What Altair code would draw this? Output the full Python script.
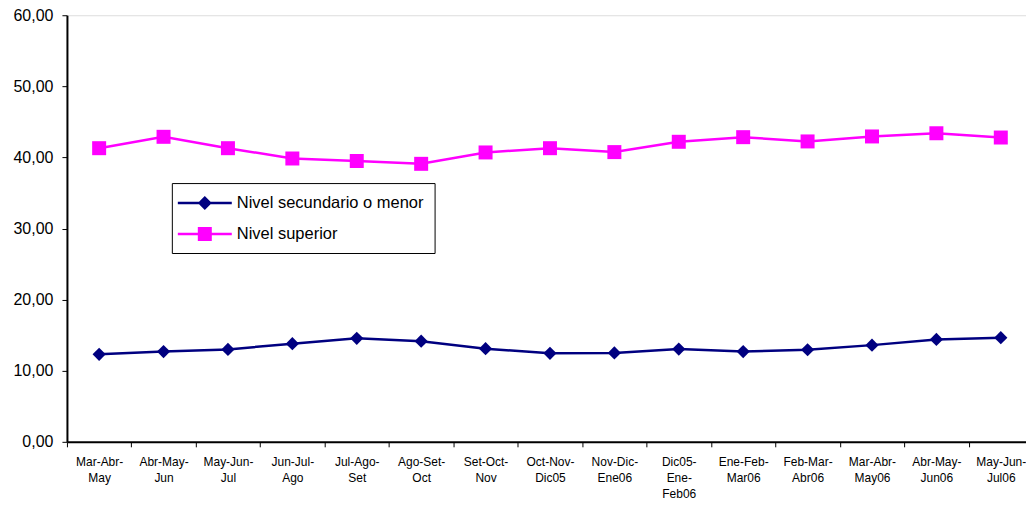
import altair as alt
import pandas as pd

categorias = ["Mar-Abr-\nMay", "Abr-May-\nJun", "May-Jun-\nJul", "Jun-Jul-\nAgo", "Jul-Ago-\nSet",
              "Ago-Set-\nOct", "Set-Oct-\nNov", "Oct-Nov-\nDic05", "Nov-Dic-\nEne06", "Dic05-\nEne-\nFeb06",
              "Ene-Feb-\nMar06", "Feb-Mar-\nAbr06", "Mar-Abr-\nMay06", "Abr-May-\nJun06", "May-Jun-\nJul06"]
secundario = [12.3, 12.7, 13.0, 13.8, 14.55, 14.15, 13.1, 12.45, 12.5, 13.05, 12.7, 12.95, 13.6, 14.4, 14.65]
superior = [41.3, 42.9, 41.3, 39.85, 39.5, 39.1, 40.7, 41.3, 40.75, 42.2, 42.85, 42.25, 42.95, 43.4, 42.8]
series = ["Nivel secundario o menor", "Nivel superior"]
colores = ["#000080", "#FF00FF"]
y_ticks = [0, 10, 20, 30, 40, 50, 60]

rows = []
for c, a, b in zip(categorias, secundario, superior):
    rows.append({"periodo": c, "serie": series[0], "valor": a})
    rows.append({"periodo": c, "serie": series[1], "valor": b})
df = pd.DataFrame(rows)

# legend symbols: line segment + marker (custom SVG paths)
path_diamond = ("M-1.4,-0.13 L4.0,-0.13 L4.0,0.13 L-1.4,0.13 Z "
                "M1.3,-0.7 L2.0,0 L1.3,0.7 L0.6,0 Z")
path_square = ("M-1.4,-0.13 L4.0,-0.13 L4.0,0.13 L-1.4,0.13 Z "
               "M0.6,-0.7 L2.0,-0.7 L2.0,0.7 L0.6,0.7 Z")

color_scale = alt.Scale(domain=series, range=colores)

x_enc = alt.X("periodo:N", sort=categorias, title=None,
              scale=alt.Scale(paddingInner=0, paddingOuter=0),
              axis=alt.Axis(labelAngle=0, tickBand="extent", tickSize=5, tickColor="black",
                            domainColor="black", domainWidth=2, labelPadding=10,
                            labelFont="Liberation Sans", labelBaseline="top",
                            labelFontSize=12, labelLineHeight=16, labelColor="black",
                            labelExpr="split(datum.label, '\\n')", labelLimit=200))
y_enc = alt.Y("valor:Q", title=None, scale=alt.Scale(domain=[0, 60], nice=False),
              axis=alt.Axis(values=y_ticks, tickSize=5, tickColor="black", domainColor="black",
                            domainWidth=2, labelPadding=9, labelFont="Liberation Sans",
                            labelFontSize=16, labelColor="black", grid=False,
                            labelExpr="replace(format(datum.value, '.2f'), '.', ',')"))

base = alt.Chart(df).encode(x=x_enc, y=y_enc)

layers = []
for s, col, shp, sz in zip(series, colores, ["diamond", "square"], [175, 196]):
    sub = base.transform_filter(alt.datum.serie == s)
    layers.append(sub.mark_line(strokeWidth=2.5, color=col))
    layers.append(sub.mark_point(shape=shp, filled=True, opacity=1, size=sz, color=col))

leg_props = dict(title=None, orient="none", legendX=105, legendY=168, symbolSize=400,
                 labelOffset=35, padding=10, rowPadding=12, strokeColor="black",
                 fillColor="white", labelFont="Liberation Sans", labelFontSize=16.5,
                 labelColor="black", labelLimit=400, symbolStrokeWidth=0, symbolOpacity=1)

legend_layer = base.mark_point(filled=True, opacity=0).encode(
    color=alt.Color("serie:N", scale=color_scale, legend=alt.Legend(**leg_props)),
    shape=alt.Shape("serie:N", scale=alt.Scale(domain=series, range=[path_diamond, path_square]),
                    legend=alt.Legend(**leg_props)),
)
layers.append(legend_layer)

chart = alt.layer(*layers).properties(
    width=967, height=427,
    autosize=alt.AutoSizeParams(type="none"),
    padding={"left": 59, "top": 7, "right": -7, "bottom": 62},
).configure_view(stroke="black", strokeWidth=2).configure(background="white")

chart.save("out.html", embed_options={"renderer": "svg", "actions": False})
